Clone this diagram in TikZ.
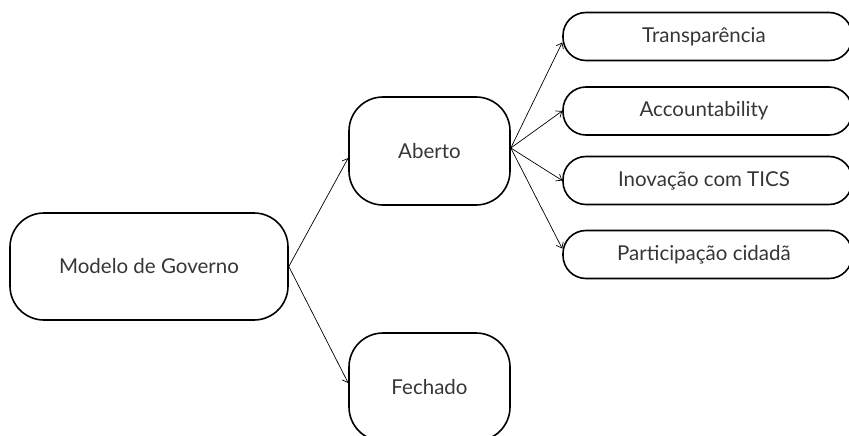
\documentclass[tikz,border=0pt]{standalone}
\usepackage{fontspec}
\setmainfont{Lato}
\usetikzlibrary{arrows.meta}
\definecolor{txt}{HTML}{363636}
\tikzset{
  bigbox/.style={draw=black, line width=1.6pt, rounded corners=34pt, text=txt, font=\fontsize{20.5}{24}\selectfont, inner sep=0pt},
  leafbox/.style={draw=black, line width=1.6pt, rounded corners=23pt, text=txt, font=\fontsize{20.5}{24}\selectfont, inner sep=0pt, minimum width=289pt, minimum height=48pt},
  conn/.style={line width=0.7pt, -{Straight Barb[length=5pt,width=8pt]}}
}
\begin{document}
\begin{tikzpicture}[x=1pt,y=-1pt]
\useasboundingbox (0,0) rectangle (849,436);
\clip (0,0) rectangle (849,436);
\node[bigbox, minimum width=278pt, minimum height=107pt] (m) at (149,266.5) {Modelo de Governo};
\node[bigbox, minimum width=161pt, minimum height=108pt] (a) at (429.5,151) {Aberto};
\node[bigbox, minimum width=161pt, minimum height=108pt] (f) at (429.5,387) {Fechado};
\node[leafbox] (t1) at (707.5,36.5) {\hspace*{-7pt}Transparência};
\node[leafbox] (t2) at (707.5,111) {\hspace*{-7pt}Accountability};
\node[leafbox] (t3) at (707.5,180.5) {\hspace*{-7pt}Inovação com TICS};
\node[leafbox] (t4) at (707.5,254.5) {\hspace*{-7pt}Participação cidadã};
\draw[conn] (m.east) -- ([yshift=-7pt]a.west);
\draw[conn] (m.east) -- ([yshift=4pt]f.west);
\draw[conn] ([yshift=3pt]a.east) -- ([yshift=-6pt]t1.west);
\draw[conn] ([yshift=3pt]a.east) -- (t2.west);
\draw[conn] ([yshift=3pt]a.east) -- (t3.west);
\draw[conn] ([yshift=3pt]a.east) -- ([yshift=6pt]t4.west);
\end{tikzpicture}
\end{document}
